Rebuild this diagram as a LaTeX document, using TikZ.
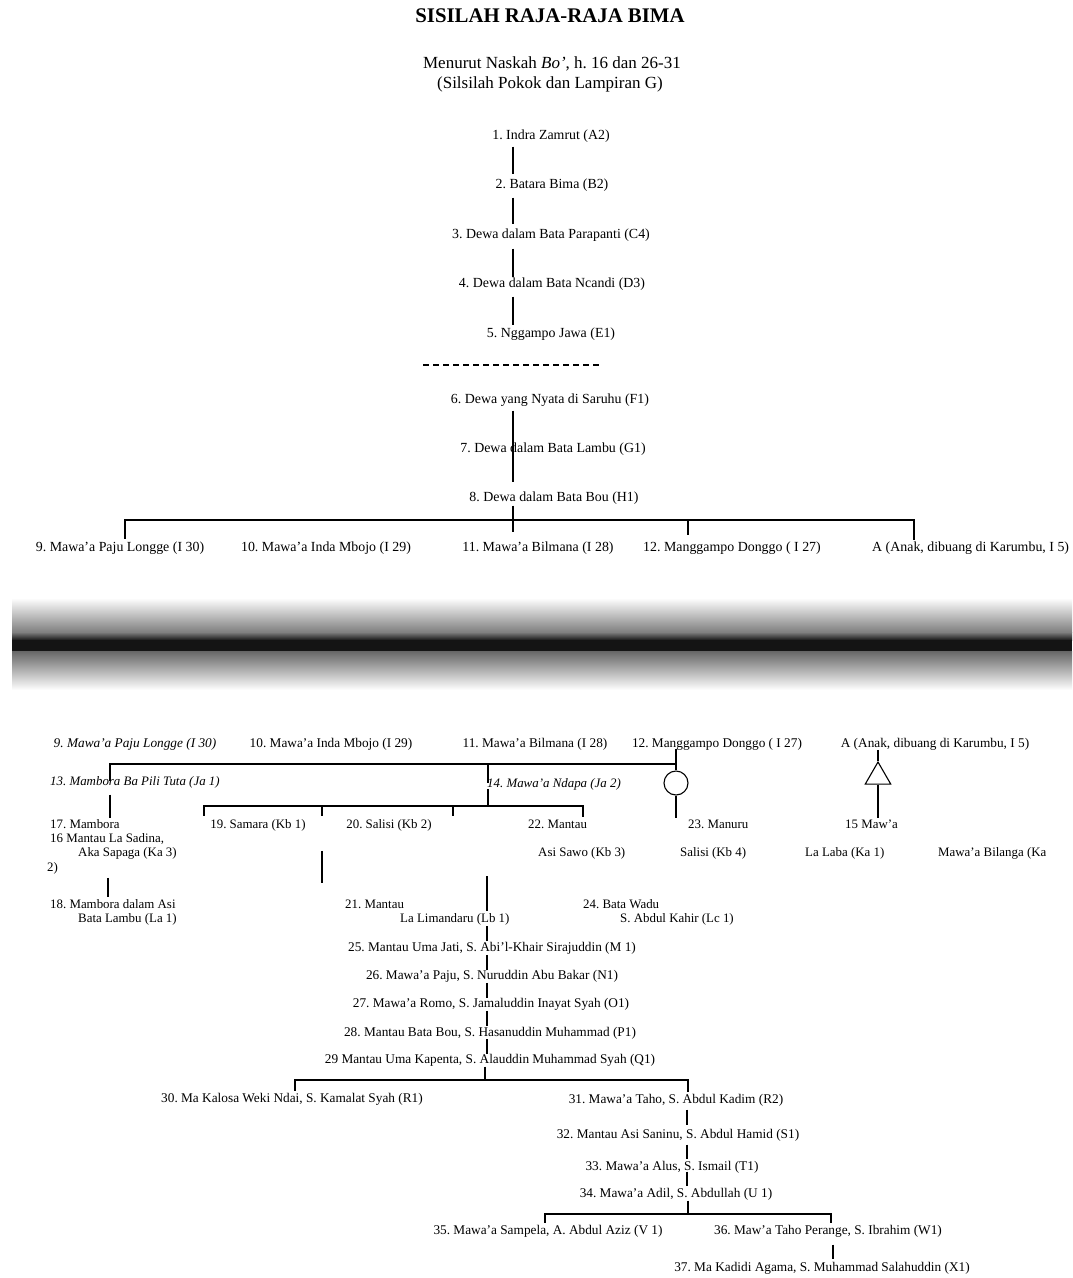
\documentclass[tikz,border=0pt]{standalone}
\usepackage{fontspec}
\setmainfont{Liberation Serif}
\usetikzlibrary{shapes.geometric}
\frenchspacing
\begin{document}
\begin{tikzpicture}[x=1pt,y=1pt,
  base/.style={inner sep=0pt, text height=0.7em, text depth=0.22em, yshift=-2.5pt},
  up/.style={base, font=\fontsize{13.9}{15}\selectfont},
  lo/.style={base, font=\fontsize{12.9}{14}\selectfont},
  loi/.style={base, font=\fontsize{12.9}{14}\selectfont\itshape},
  ch/.style={base, font=\fontsize{13.3}{15}\selectfont},
  link/.style={line width=1.1pt},
  sep/.style={line width=1.3pt, dash pattern=on 6pt off 4pt}]
\useasboundingbox (0,0) rectangle (1072,-1278);
\fill[white] (0,0) rectangle (1072,-1278);

% scanner shadow band
\shade[top color=white, bottom color=black!50] (12,-598) rectangle (1072,-632);
\shade[top color=black!50, bottom color=black!90] (12,-632) rectangle (1072,-640);
\fill[black!92] (12,-640) rectangle (1072,-651);
\shade[top color=black!60, bottom color=white] (12,-651) rectangle (1072,-690);

% titles
\node[base, font=\fontsize{20.8}{24}\selectfont\bfseries] (title) at (550,-18) {SISILAH RAJA-RAJA BIMA};
\node[base, font=\fontsize{17}{19}\selectfont] (sub1) at (552,-64) {Menurut Naskah \textit{Bo'}, h. 16 dan 26-31};
\node[base, font=\fontsize{17}{19}\selectfont] (sub2) at (550,-84) {(Silsilah Pokok dan Lampiran G)};

% upper chain
\coordinate (cx) at (513,0);
\node[up] (n1) at (551,-135) {1. Indra Zamrut (A2)};
\node[up] (n2) at (552,-184) {2. Batara Bima (B2)};
\node[up] (n3) at (551,-234) {3. Dewa dalam Bata Parapanti (C4)};
\node[up] (n4) at (552,-283) {4. Dewa dalam Bata Ncandi (D3)};
\node[up] (n5) at (551,-333) {5. Nggampo Jawa (E1)};
\coordinate (dsL) at (423,-365);
\coordinate (dsR) at (600,-365);
\draw[sep] (dsL) -- (dsR);
\node[up] (n6) at (550,-399) {6. Dewa yang Nyata di Saruhu (F1)};
\node[up] (n7) at (553,-448) {7. Dewa dalam Bata Lambu (G1)};
\node[up] (n8) at (554,-497) {8. Dewa dalam Bata Bou (H1)};

\draw[link, shorten <=4.2pt, shorten >=8.2pt] (n1.south -| cx) -- (n2.north -| cx);
\draw[link, shorten <=6.2pt, shorten >=8.2pt] (n2.south -| cx) -- (n3.north -| cx);
\draw[link, shorten <=7.2pt, shorten >=4.2pt] (n3.south -| cx) -- (n4.north -| cx);
\draw[link, shorten <=6.2pt, shorten >=6.2pt] (n4.south -| cx) -- (n5.north -| cx);
\draw[link, shorten <=4.2pt, shorten >=13.2pt] (n6.south -| cx) -- (n8.north -| cx);

% upper children row
\node[up] (u9) at (120,-547) {9. Mawa'a Paju Longge (I 30)};
\node[up] (u10) at (326,-547) {10. Mawa'a Inda Mbojo (I 29)};
\node[up] (u11) at (538,-547) {11. Mawa'a Bilmana (I 28)};
\node[up] (u12) at (732,-547) {12. Manggampo Donggo ( I 27)};
\node[up, anchor=west] (uA) at (872,-547) {A (Anak, dibuang di Karumbu, I 5)};
\coordinate (b9) at (125,-520);
\coordinate (b12) at (688,-520);
\coordinate (bA) at (914,-520);
\coordinate (b8) at (513,-532);
\draw[link, shorten <=1.2pt] (n8.south -| cx) -- (b8);
\draw[link, shorten <=6.2pt, shorten >=5.2pt] (u9.north -| b9) -- (b9) -- (bA) -- (uA.north -| bA);
\draw[link, shorten >=10.2pt] (b12) -- (u12.north -| b12);

% lower section: repeated row
\node[ch, font=\fontsize{13.3}{15}\selectfont\itshape] (l9) at (135,-743) {9. Mawa'a Paju Longge (I 30)};
\node[ch] (l10) at (331,-743) {10. Mawa'a Inda Mbojo (I 29)};
\node[ch] (l11) at (535,-743) {11. Mawa'a Bilmana (I 28)};
\node[ch] (l12) at (717,-743) {12. Manggampo Donggo ( I 27)};
\node[ch] (lA) at (935,-743) {A (Anak, dibuang di Karumbu, I 5)};

\node[loi, anchor=west] (n13) at (50,-781) {13. Mambora Ba Pili Tuta (Ja 1)};
\node[loi, anchor=west] (n14) at (487,-783) {14. Mawa'a Ndapa (Ja 2)};

\node[circle, draw, line width=1.1pt, minimum size=24pt, inner sep=0pt] (circ) at (676,-783) {};
\node[regular polygon, regular polygon sides=3, draw, line width=1.1pt, minimum size=29.4pt, inner sep=0pt] (tri) at (878,-776.7) {};

\coordinate (j13) at (110,-764);
\coordinate (c488) at (488,-764);
\coordinate (c488b) at (488,-806);
\draw[link, shorten <=-2.5pt] (n13.north -| j13) -- (j13) -- (j13 -| circ);
\draw[link, shorten >=-2.5pt] (c488) -- (n14.north -| c488);
\draw[link, shorten <=-1.5pt] (n14.south -| c488) -- (c488b);
\draw[link, shorten <=-1.5pt] (l12.south -| circ) -- (circ.north);
\draw[link, shorten <=-0.5pt] (lA.south -| tri.corner 1) -- (tri.corner 1);

% row 17 / 19 / 20 / 22 / 23 / 15
\node[lo, anchor=west] (n17) at (50,-824) {17. Mambora};
\node[lo, anchor=west] (n16) at (50,-838) {16 Mantau La Sadina,};
\node[lo, anchor=west] (n16b) at (78,-852) {Aka Sapaga (Ka 3)};
\node[lo, anchor=west] (n2p) at (47,-867) {2)};
\node[lo] (n19) at (258,-824) {19. Samara (Kb 1)};
\node[lo] (n20) at (389,-824) {20. Salisi (Kb 2)};
\node[lo, anchor=west] (n22) at (528,-824) {22. Mantau};
\node[lo, anchor=west] (n22b) at (538,-852) {Asi Sawo (Kb 3)};
\node[lo, anchor=west] (n23) at (688,-824) {23. Manuru};
\node[lo, anchor=west] (n23b) at (680,-852) {Salisi (Kb 4)};
\node[lo, anchor=west] (n15) at (845,-824) {15 Maw'a};
\node[lo, anchor=west] (n15b) at (805,-852) {La Laba (Ka 1)};
\node[lo, anchor=west] (nMB) at (938,-852) {Mawa'a Bilanga (Ka};

\coordinate (k1) at (204,-806);
\coordinate (k2) at (322,-806);
\coordinate (k3) at (453,-806);
\coordinate (k4) at (583,-806);
\draw[link, shorten <=6.2pt, shorten >=5.2pt] (n19.north -| k1) -- (k1) -- (k4) -- (n22.north -| k4);
\draw[link, shorten >=6.2pt] (k2) -- (n20.north -| k2);
\draw[link, shorten >=6.2pt] (k3) -- (n20.north -| k3);
\draw[link, shorten >=4.2pt] (circ.south) -- (n23.north -| circ);
\draw[link, shorten >=4.2pt] (tri.south) -- (n15.north -| tri);
\draw[link, shorten <=6.2pt, shorten >=4.2pt] (n13.south -| j13) -- (n17.north -| j13);

% row 18 / 21 / 24
\node[lo, anchor=west] (n18) at (50,-904) {18. Mambora dalam Asi};
\node[lo, anchor=west] (n18b) at (78,-918) {Bata Lambu (La 1)};
\node[lo, anchor=west] (n21) at (345,-904) {21. Mantau};
\node[lo, anchor=west] (n21b) at (400,-918) {La Limandaru (Lb 1)};
\node[lo, anchor=west] (n24) at (583,-904) {24. Bata Wadu};
\node[lo, anchor=west] (n24b) at (620,-918) {S. Abdul Kahir (Lc 1)};

\coordinate (c108) at (108,0);
\coordinate (c322) at (322,0);
\coordinate (c487) at (487,0);
\coordinate (c487a) at (487,-876);
\draw[link, shorten <=3.5pt, shorten >=4.5pt] (n2p.south -| c108) -- (n18.north -| c108);
\draw[link, shorten <=19.5pt, shorten >=18.5pt] (n20.south -| c322) -- (n21.north -| c322);
\draw[link, shorten >=4.5pt] (c487a) -- (n21b.north -| c487);

% main chain 25-29
\node[ch] (n25) at (492,-947) {25. Mantau Uma Jati, S. Abi'l-Khair Sirajuddin (M 1)};
\node[ch] (n26) at (492,-975) {26. Mawa'a Paju, S. Nuruddin Abu Bakar (N1)};
\node[ch] (n27) at (491,-1003) {27. Mawa'a Romo, S. Jamaluddin Inayat Syah (O1)};
\node[ch] (n28) at (490,-1032) {28. Mantau Bata Bou, S. Hasanuddin Muhammad (P1)};
\node[ch] (n29) at (490,-1059) {29 Mantau Uma Kapenta, S. Alauddin Muhammad Syah (Q1)};

\draw[link, shorten <=1pt, shorten >=4pt] (n21b.south -| c487) -- (n25.north -| c487);
\draw[link, shorten <=0.5pt, shorten >=2.5pt] (n25.south -| c487) -- (n26.north -| c487);
\draw[link, shorten <=0.5pt, shorten >=2.5pt] (n26.south -| c487) -- (n27.north -| c487);
\draw[link, shorten <=0.5pt, shorten >=3.5pt] (n27.south -| c487) -- (n28.north -| c487);
\draw[link, shorten <=0pt, shorten >=2.5pt] (n28.south -| c487) -- (n29.north -| c487);

% 30 / 31
\node[ch] (n30) at (292,-1098) {30. Ma Kalosa Weki Ndai, S. Kamalat Syah (R1)};
\node[ch] (n31) at (676,-1099) {31. Mawa'a Taho, S. Abdul Kadim (R2)};
\coordinate (q) at (485,-1080);
\coordinate (q30) at (295,-1080);
\coordinate (q31) at (688,-1080);
\draw[link, shorten <=0.2pt] (n29.south -| q) -- (q);
\draw[link, shorten <=5.2pt, shorten >=5.2pt] (n30.north -| q30) -- (q30) -- (q31) -- (n31.north -| q31);

\node[ch] (n32) at (678,-1134) {32. Mantau Asi Saninu, S. Abdul Hamid (S1)};
\node[ch] (n33) at (672,-1166) {33. Mawa'a Alus, S. Ismail (T1)};
\node[ch] (n34) at (676,-1193) {34. Mawa'a Adil, S. Abdullah (U 1)};
\coordinate (c687) at (687,0);
\draw[link, shorten <=3.2pt, shorten >=7.2pt] (n31.south -| c687) -- (n32.north -| c687);
\draw[link, shorten <=3.2pt, shorten >=5.2pt] (n32.south -| c687) -- (n33.north -| c687);
\draw[link, shorten <=-1.8pt, shorten >=5.2pt] (n33.south -| c687) -- (n34.north -| c687);

% 35 / 36 / 37
\node[ch] (n35) at (548,-1230) {35. Mawa'a Sampela, A. Abdul Aziz (V 1)};
\node[ch] (n36) at (828,-1230) {36. Maw'a Taho Perange, S. Ibrahim (W1)};
\node[ch] (n37) at (822,-1267) {37. Ma Kadidi Agama, S. Muhammad Salahuddin (X1)};
\coordinate (r) at (688,-1214);
\coordinate (r35) at (545,-1214);
\coordinate (r36) at (831,-1214);
\draw[link, shorten <=0.2pt] (n34.south -| r) -- (r);
\draw[link, shorten <=5.2pt, shorten >=5.2pt] (n35.north -| r35) -- (r35) -- (r36) -- (n36.north -| r36);
\coordinate (c833) at (833,0);
\draw[link, shorten <=7.2pt, shorten >=6.2pt] (n36.south -| c833) -- (n37.north -| c833);
\end{tikzpicture}
\end{document}
